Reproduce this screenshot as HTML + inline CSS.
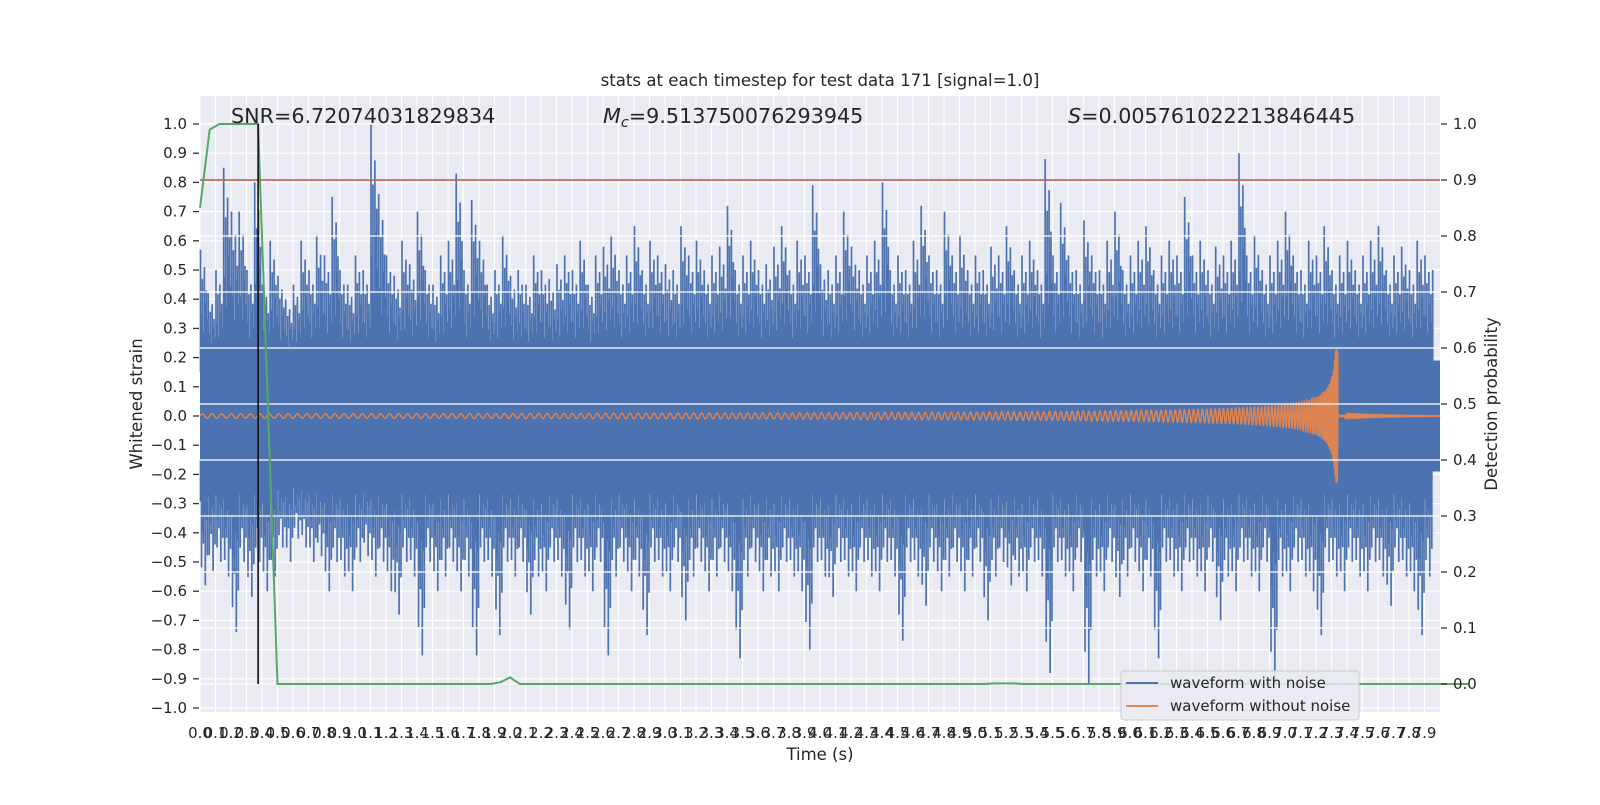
<!DOCTYPE html>
<html><head><meta charset="utf-8"><style>
body{margin:0;background:#fff}
text{font-family:"DejaVu Sans","Liberation Sans",sans-serif;fill:#262626}
</style></head><body>
<svg id="chart" width="1600" height="800" xmlns="http://www.w3.org/2000/svg">
<rect x="0" y="0" width="1600" height="800" fill="#fff"/>
<rect x="200" y="96" width="1240" height="616" fill="#eaeaf2"/>
<g id="gridL"></g><g id="noise"></g><g id="chirp"></g><g id="gridR"></g><g id="overlay"></g><g id="axes"></g>
<text x="820" y="86" font-size="16.6" text-anchor="middle">stats at each timestep for test data 171 [signal=1.0]</text>
<text x="231" y="123" font-size="20.7">SNR=6.72074031829834</text>
<text x="603" y="123" font-size="20.7"><tspan font-style="italic">M</tspan><tspan font-style="italic" font-size="14.5" dy="4">c</tspan><tspan dy="-4">=9.513750076293945</tspan></text>
<text x="1068" y="123" font-size="20.7"><tspan font-style="italic">S</tspan>=0.005761022213846445</text>
<text x="820" y="760" font-size="16.5" text-anchor="middle">Time (s)</text>
<text transform="translate(142,404) rotate(-90)" font-size="16.5" text-anchor="middle">Whitened strain</text>
<text transform="translate(1497,404) rotate(-90)" font-size="16.5" text-anchor="middle">Detection probability</text>
<g>
<rect x="1121" y="671" width="238" height="49" rx="3" fill="#eaeaf2" fill-opacity="0.85" stroke="#cccccc"/>
<line x1="1126" y1="683" x2="1158" y2="683" stroke="#4c72b0" stroke-width="2"/>
<text x="1170" y="688" font-size="15">waveform with noise</text>
<line x1="1126" y1="706" x2="1158" y2="706" stroke="#dd8452" stroke-width="2"/>
<text x="1170" y="711" font-size="15">waveform without noise</text>
</g>
</svg>
<script>
const noiseUpper=[.57,.42,.5,.85,.7,.7,.5,.8,.45,.6,.48,.4,.45,.6,.5,.62,.55,.75,.5,.45,.55,.5,1.0,.76,.55,.48,.6,.52,.7,.5,.45,.55,.6,.83,.5,.74,.6,.45,.5,.62,.48,.5,.45,.55,.5,.47,.52,.55,.5,.6,.45,.55,.58,.62,.5,.55,.65,.5,.6,.55,.52,.5,.65,.55,.6,.5,.55,.58,.72,.5,.55,.6,.5,.52,.58,.65,.5,.6,.55,.79,.52,.5,.55,.7,.58,.5,.55,.6,.8,.5,.55,.5,.6,.72,.55,.5,.7,.55,.62,.5,.55,.5,.58,.55,.65,.5,.55,.6,.5,.88,.55,.73,.55,.5,.67,.55,.5,.6,.7,.5,.55,.6,.65,.5,.55,.6,.55,.75,.55,.6,.5,.58,.55,.6,.9,.55,.62,.5,.55,.6,.7,.55,.5,.6,.55,.65,.5,.55,.6,.5,.55,.6,.65,.5,.55,.58,.5,.6,.55,.5];
const noiseLower=[-.58,-.53,-.5,-.55,-.74,-.5,-.62,-.5,-.6,-.55,-.45,-.5,-.42,-.45,-.5,-.48,-.6,-.5,-.55,-.6,-.5,-.48,-.55,-.5,-.6,-.68,-.5,-.55,-.82,-.5,-.6,-.55,-.5,-.6,-.55,-.82,-.5,-.55,-.75,-.5,-.55,-.5,-.68,-.55,-.6,-.5,-.55,-.73,-.5,-.55,-.6,-.5,-.82,-.55,-.5,-.6,-.55,-.75,-.5,-.55,-.6,-.5,-.7,-.55,-.5,-.6,-.55,-.5,-.6,-.83,-.55,-.5,-.6,-.55,-.6,-.5,-.55,-.6,-.8,-.5,-.55,-.62,-.5,-.55,-.6,-.5,-.55,-.6,-.5,-.55,-.77,-.5,-.55,-.65,-.5,-.6,-.55,-.5,-.6,-.55,-.5,-.7,-.55,-.5,-.58,-.55,-.6,-.5,-.55,-.88,-.5,-.55,-.6,-.5,-.92,-.55,-.6,-.5,-.62,-.55,-.5,-.6,-.55,-.83,-.5,-.55,-.6,-.5,-.55,-.6,-.5,-.7,-.55,-.6,-.5,-.55,-.6,-.5,-.92,-.55,-.6,-.5,-.55,-.6,-.75,-.5,-.55,-.6,-.5,-.55,-.6,-.5,-.55,-.65,-.5,-.55,-.6,-.75,-.55];
const noiseStep=0.05;
const probValues=[0.85,0.99,1,1,1,1,1,0.5,0,0,0,0,0,0,0,0,0,0,0,0,0,0,0,0,0,0,0,0,0,0,0,0.003,0.012,0,0,0,0,0,0,0,0,0,0,0,0,0,0,0,0,0,0,0,0,0,0,0,0,0,0,0,0,0,0,0,0,0,0,0,0,0,0,0,0,0,0,0,0,0,0,0,0,0,0.001,0.001,0.001,0,0,0,0,0,0,0,0,0,0,0,0,0,0,0,0,0,0,0,0,0,0,0,0,0,0,0,0,0,0,0,0,0,0,0,0,0,0,0,0,0,0,0,0,0,0,0];
const probStep=0.0625;
const chirpParams=[7.34,16,0.007,0.56,0.23];
const threshold=[0.9];
const triggerTime=[0.375];
const xTicks=Array.from({length:80},(_,i)=>(i/10).toFixed(1));
const yTicksL=Array.from({length:21},(_,i)=>(-1+i*0.1));
const yTicksR=Array.from({length:11},(_,i)=>(i*0.1));

const NS="http://www.w3.org/2000/svg";
const X=t=>200+t*155, YL=v=>416-v*292, YR=p=>684-p*560;
function mk(tag,attrs,parent){const e=document.createElementNS(NS,tag);for(const k in attrs)e.setAttribute(k,attrs[k]);document.getElementById(parent).appendChild(e);return e;}

xTicks.forEach(s=>{const e=mk('line',{x1:X(+s),x2:X(+s),y1:96,y2:712,stroke:'#fff','stroke-width':1.2},'gridL');

});
yTicksL.forEach(v=>{const e=mk('line',{x1:200,x2:1440,y1:YL(v),y2:YL(v),stroke:'#fff','stroke-width':1.2},'gridL');

});

// noise
const core=mk('rect',{x:X(0),y:YL(0.19),width:X(8)-X(0),height:YL(-0.19)-YL(0.19),fill:'#4c72b0'},'noise');


const fr=[1,0.45,0.75,0.3,0.85,0.55,0.65,0.4];
let d='';
noiseUpper.forEach((u,i)=>{const t0=i*noiseStep;const lo=noiseLower[i];
 fr.forEach((f,j)=>{const x=X(t0+noiseStep*(j+0.5)/fr.length).toFixed(1);
   const uh=0.17+(u-0.17)*f, lh=-0.17+(lo+0.17)*fr[(j+3)%fr.length];
   d+=`M${x} ${YL(0.15).toFixed(1)}V${YL(uh).toFixed(1)}M${x} ${YL(-0.15).toFixed(1)}V${YL(lh).toFixed(1)}`;});});
const np=mk('path',{d:d,stroke:'#4c72b0','stroke-width':1.7,fill:'none'},'noise');



// chirp
const [tc,f0,A0,pw,Amax]=chirpParams;
let ph=0,pts=[];
for(let t=0;t<=8;t+=0.0005){let v;
 if(t<tc){const r=1-t/tc;const f=f0*Math.pow(Math.max(r,1e-5),-0.375);ph+=2*Math.PI*f*0.0005;
  const A=Math.min(A0*Math.pow(Math.max(r,1e-5),-pw),Amax);v=A*Math.sin(ph);}
 else{v=0.004*Math.exp(-(t-tc)*3)*Math.sin(2*Math.PI*250*(t-tc));}
 pts.push(X(t).toFixed(2)+','+YL(v).toFixed(2));}
const cp=mk('polyline',{points:pts.join(' '),stroke:'#dd8452','stroke-width':1.5,fill:'none'},'chirp');



yTicksR.forEach(p=>{const e=mk('line',{x1:200,x2:1440,y1:YR(p),y2:YR(p),stroke:'#fff','stroke-width':1.2},'gridR');

});

const th=mk('line',{x1:200,x2:1440,y1:YR(threshold[0]),y2:YR(threshold[0]),stroke:'#c44e52','stroke-width':1.5},'overlay');


const gp=probValues.map((p,i)=>X(i*probStep).toFixed(1)+','+YR(p).toFixed(1)).join(' ');
const pl=mk('polyline',{points:gp,stroke:'#55a868','stroke-width':2,fill:'none'},'overlay');


const vl=mk('line',{x1:X(triggerTime[0]),x2:X(triggerTime[0]),y1:YR(1),y2:YR(0),stroke:'#111','stroke-width':1.6},'overlay');



xTicks.forEach(s=>{const e=mk('text',{x:X(+s),y:738,'font-size':15,'text-anchor':'middle'},'axes');e.textContent=s;

});
yTicksL.forEach(v=>{const y=YL(v);
 const tk=mk('line',{x1:193,x2:199,y1:y,y2:y,stroke:'#333','stroke-width':1.3},'axes');
 
 
 const e=mk('text',{x:187,y:y+5,'font-size':15,'text-anchor':'end'},'axes');e.textContent=v.toFixed(1).replace('-','\u2212').replace('\u22120.0','0.0');
 
 });
yTicksR.forEach(p=>{const y=YR(p);
 const tk=mk('line',{x1:1441,x2:1447,y1:y,y2:y,stroke:'#333','stroke-width':1.3},'axes');
 
 
 const e=mk('text',{x:1453,y:y+5,'font-size':15},'axes');e.textContent=p.toFixed(1);
 
 });
</script>
</body></html>
